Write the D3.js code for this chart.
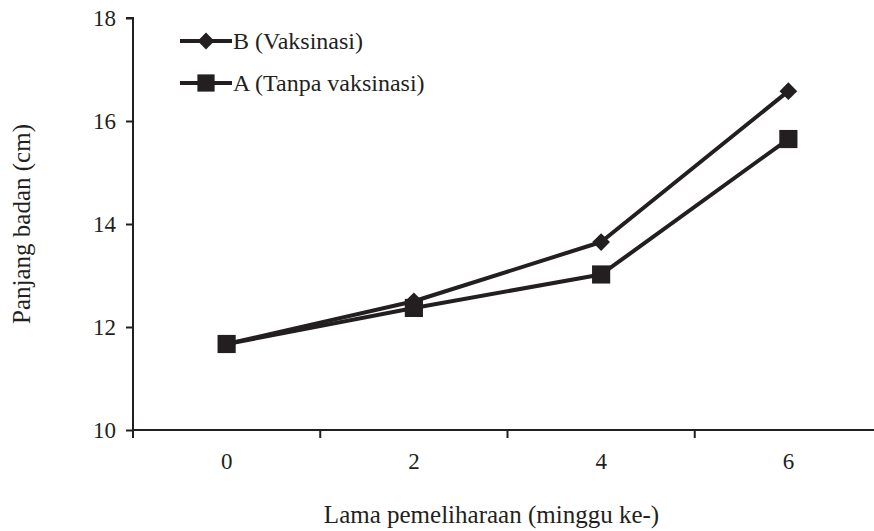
<!DOCTYPE html>
<html>
<head>
<meta charset="UTF-8">
<script src="https://cdn.jsdelivr.net/npm/d3@7"></script>
<style>
  body { margin: 0; background: #fff; }
  svg text { font-family: 'Liberation Serif', serif; fill: #231f20; }
</style>
</head>
<body>
<div id="chart"></div>
<script>
// data
const minggu = ["0", "2", "4", "6"];
const vaksinasi = [11.67, 12.5, 13.65, 16.58];       // B
const tanpaVaksinasi = [11.67, 12.37, 13.02, 15.65]; // A
const yTicks = [10, 12, 14, 16, 18];

const width = 874, height = 531;
const margin = { top: 18, right: -8, bottom: 101, left: 133 };
const ink = "#231f20";

const svg = d3.select("#chart").append("svg")
    .attr("width", width)
    .attr("height", height);

const x = d3.scaleBand()
    .domain(minggu)
    .range([margin.left, width - margin.right]);

const y = d3.scaleLinear()
    .domain([10, 18])
    .range([height - margin.bottom, margin.top]);

// y axis
const yAxis = svg.append("g")
    .attr("transform", `translate(${margin.left},0)`)
    .call(d3.axisLeft(y).tickValues(yTicks).tickSize(7).tickPadding(10));
yAxis.select(".domain").attr("stroke", ink).attr("stroke-width", 2).attr("d", `M-7,${y(18)}H0V${y(10)}`);
yAxis.selectAll(".tick line").attr("stroke", ink).attr("stroke-width", 2);
yAxis.selectAll(".tick text").style("font-size", "23px").style("fill", ink);

// x axis with ticks between categories
const xAxis = svg.append("g")
    .attr("transform", `translate(0,${y(10)})`)
    .call(d3.axisBottom(x).tickSize(0).tickPadding(23));
xAxis.select(".domain").attr("stroke", ink).attr("stroke-width", 2).attr("d", `M${margin.left},0H${width}`);
xAxis.selectAll(".tick text").style("font-size", "23px").style("fill", ink);
svg.append("g").selectAll("line")
    .data(minggu)
    .join("line")
    .attr("x1", d => x(d)).attr("x2", d => x(d))
    .attr("y1", y(10)).attr("y2", y(10) + 8)
    .attr("stroke", ink).attr("stroke-width", 2);

// axis titles
svg.append("text")
    .attr("x", (margin.left + width) / 2 - 12)
    .attr("y", 523)
    .attr("text-anchor", "middle")
    .style("font-size", "25px")
    .text("Lama pemeliharaan (minggu ke-)");

svg.append("text")
    .attr("transform", `translate(30,${(y(10) + y(18)) / 2}) rotate(-90)`)
    .attr("text-anchor", "middle")
    .style("font-size", "25px")
    .text("Panjang badan (cm)");

const cx = d => x(d) + x.bandwidth() / 2;
const line = d3.line().x(d => cx(d[0])).y(d => y(d[1]));

const series = [
  { name: "B (Vaksinasi)", values: vaksinasi, shape: d3.symbolDiamond2, size: 200 },
  { name: "A (Tanpa vaksinasi)", values: tanpaVaksinasi, shape: d3.symbolSquare, size: 330 }
];

// A drawn first so B sits on top
series.slice().reverse().forEach(s => {
  const pts = minggu.map((m, i) => [m, s.values[i]]);
  svg.append("path")
      .attr("d", line(pts))
      .attr("fill", "none")
      .attr("stroke", ink)
      .attr("stroke-width", 4)
      .attr("stroke-linejoin", "round");
  svg.append("g").selectAll("path")
      .data(pts)
      .join("path")
      .attr("transform", d => `translate(${cx(d[0])},${y(d[1])})`)
      .attr("d", d3.symbol(s.shape, s.size))
      .attr("fill", ink);
});

// legend
const legend = svg.append("g").attr("transform", "translate(180,41)");
series.forEach((s, i) => {
  const g = legend.append("g").attr("transform", `translate(0,${i * 42})`);
  g.append("line").attr("x1", 0).attr("x2", 52).attr("stroke", ink).attr("stroke-width", 4);
  g.append("path").attr("transform", "translate(26,0)")
      .attr("d", d3.symbol(s.shape, s.size * 0.9)).attr("fill", ink);
  g.append("text").attr("x", 53).attr("dy", "0.35em")
      .style("font-size", "24px").text(s.name);
});
</script>
</body>
</html>
